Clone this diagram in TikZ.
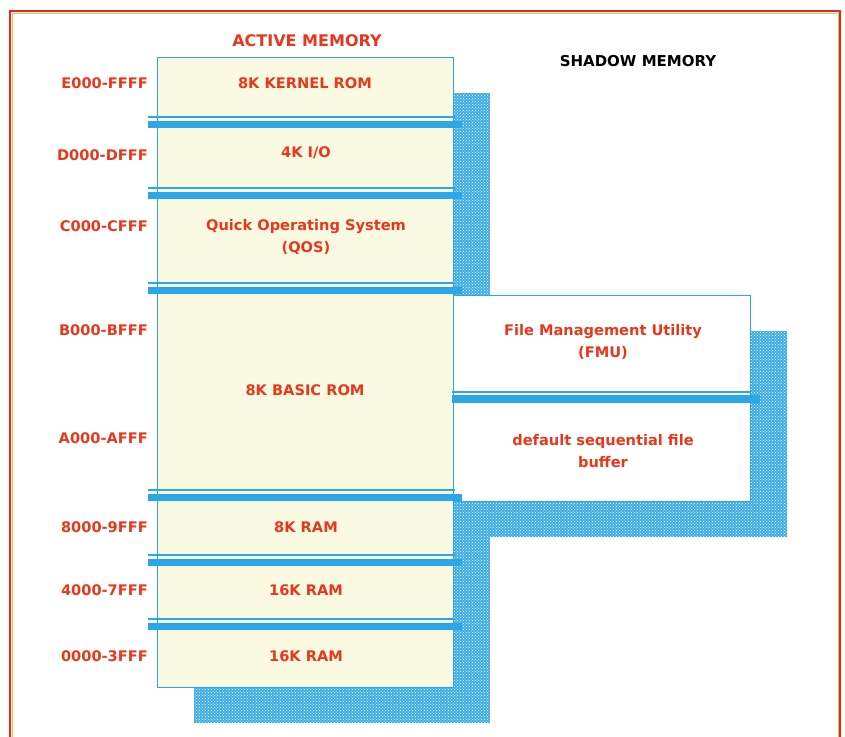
\documentclass[tikz,border=0pt]{standalone}
\usepackage{fontspec}
\setmainfont{DejaVu Sans}
\usetikzlibrary{patterns}
\definecolor{memblue}{HTML}{2BA6E6}
\definecolor{memred}{HTML}{E8381C}
\definecolor{cream}{HTML}{FAFAE2}
\definecolor{framered}{HTML}{E5261B}
\definecolor{frameyellow}{HTML}{F7C04A}
\begin{document}
\begin{tikzpicture}[x=1pt,y=-1pt,
  lbl/.style={font=\fontsize{14.6}{21.5}\selectfont\bfseries, text=memred, align=center, inner sep=0pt},
  addr/.style={lbl, anchor=east},
  title/.style={font=\fontsize{16}{18}\selectfont\bfseries, inner sep=0pt},
  shadowfill/.style={fill=memblue!92!white, postaction={pattern=crosshatch dots, pattern color=white}},
  membox/.style={draw=memblue, line width=1.3pt, inner sep=0pt, anchor=north west},
  thinbar/.style={draw=memblue, line width=1.5pt},
  thickbar/.style={fill=memblue}]
\path[use as bounding box] (0,0) rectangle (845,736);
\clip (0,0) rectangle (845,736);
\fill[white] (0,0) rectangle (845,736);
% frame
\draw[framered, line width=2.6pt] (10,760) -- (10,11) -- (840,11) -- (840,760);
\draw[frameyellow, line width=0.6pt] (12,760) -- (12,13) -- (838,13) -- (838,760);
% shadows
\fill[shadowfill] (194,93) rectangle (490,723);
\fill[shadowfill] (490,331) rectangle (787,537);
% boxes
\node[membox, fill=cream, minimum width=296pt, minimum height=630pt] (active) at (157,57) {};
\node[membox, fill=white, minimum width=297pt, minimum height=206pt] (fmubox) at (453,295) {};
% separators in active memory
\foreach \y in {117,188,283,490,555,619}{
  \draw[thinbar] (148,\y) -- (455,\y);
  \fill[thickbar] (148,\y+4) rectangle (462,\y+11);
}
% separator in shadow memory
\draw[thinbar] (452,392) -- (750,392);
\fill[thickbar] (452,395) rectangle (760,403);
% titles
\node[title, text=memred] (acttitle) at (307,41) {ACTIVE MEMORY};
\node[title, text=black, font=\fontsize{15}{18}\selectfont\bfseries] (shtitle) at (638,61) {SHADOW MEMORY};
% address labels
\node[addr] (aE) at (148,83) {E000-FFFF};
\node[addr] (aD) at (148,155) {D000-DFFF};
\node[addr] (aC) at (148,226) {C000-CFFF};
\node[addr] (aB) at (148,330) {B000-BFFF};
\node[addr] (aA) at (148,438) {A000-AFFF};
\node[addr] (a8) at (148,527) {8000-9FFF};
\node[addr] (a4) at (148,590) {4000-7FFF};
\node[addr] (a0) at (148,656) {0000-3FFF};
% region labels
\node[lbl] (kernel) at (305,83) {8K KERNEL ROM};
\node[lbl] (io) at (306,153) {4K I/O};
\node[lbl] (qos) at (306,237) {Quick Operating System\\(QOS)};
\node[lbl] (basic) at (305,390) {8K BASIC ROM};
\node[lbl] (ram8) at (306,527) {8K RAM};
\node[lbl] (ram16a) at (306,590) {16K RAM};
\node[lbl] (ram16b) at (306,656) {16K RAM};
\node[lbl] (fmu) at (603,342) {File Management Utility\\(FMU)};
\node[lbl] (buf) at (603,451) {default sequential file\\buffer};
\end{tikzpicture}
\end{document}
